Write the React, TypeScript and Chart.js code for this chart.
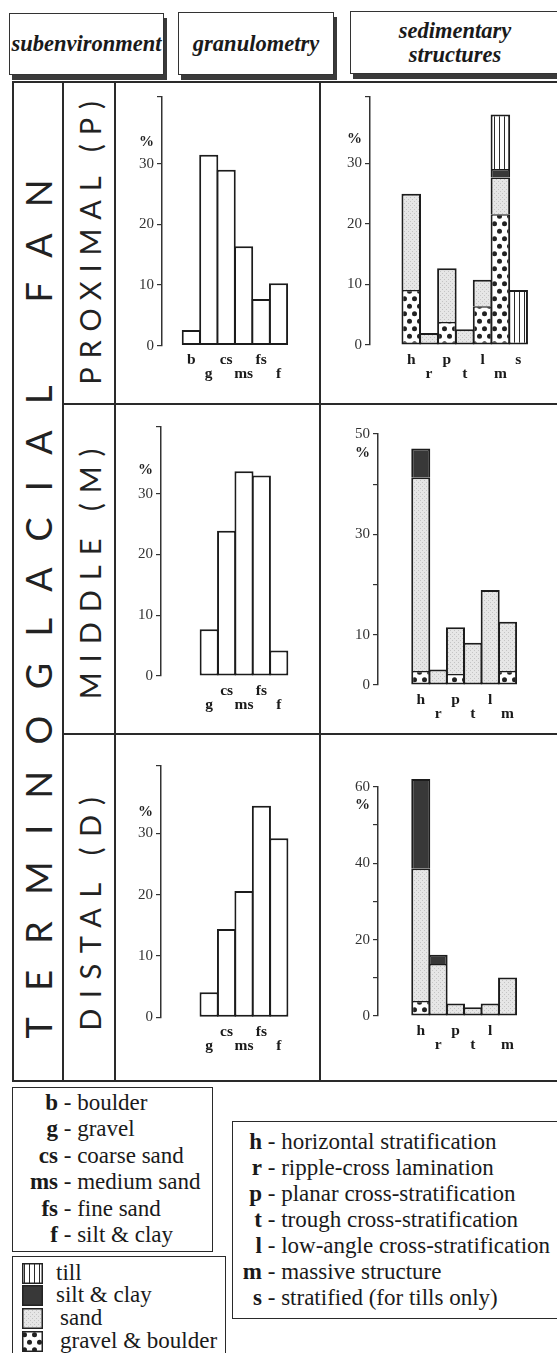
import React, { useEffect, useRef } from 'react';
import { Chart, registerables } from 'chart.js';
Chart.register(...registerables);

const SERIF = '"Liberation Serif", "Times New Roman", serif';
const SANS = 'Lato, "Open Sans", sans-serif';

// ---------------- data ----------------
const granCategories = ['b', 'g', 'cs', 'ms', 'fs', 'f'];
const granLabelsProximal = ['b', 'g', 'cs', 'ms', 'fs', 'f'];
const granLabelsOther = ['', 'g', 'cs', 'ms', 'fs', 'f'];
const granProximal = [2.6, 31.5, 29.0, 16.4, 7.7, 10.3];
const granMiddle = [null, 7.7, 23.9, 33.7, 33.0, 4.2];
const granDistal = [null, 4.1, 14.4, 20.6, 34.5, 29.2];
const granTickValues = [0, 10, 20, 30, 41];
const granTickLabels = ['0', '10', '20', '30', ''];

const sedCategoriesProximal = ['h', 'r', 'p', 't', 'l', 'm', 's'];
const sedCategories = ['h', 'r', 'p', 't', 'l', 'm'];

const proxGravel = [9.1, null, 3.8, null, 6.4, 21.6, null];
const proxSand = [15.9, 2.0, 8.9, 2.6, 4.4, 6.1, null];
const proxSilt = [null, null, null, null, null, 1.4, null];
const proxTill = [null, null, null, null, null, 9.0, 9.1];

const midGravel = [2.8, null, 2.2, null, null, 2.8];
const midSand = [38.5, 3.1, 9.3, 8.4, 18.9, 9.8];
const midSilt = [5.8, null, null, null, null, null];

const distGravel = [3.9, null, null, null, null, null];
const distSand = [34.6, 13.6, 3.3, 2.3, 3.3, 10.1];
const distSilt = [23.5, 2.4, null, null, null, null];

const sedProxTickValues = [0, 10, 20, 30, 41];
const sedProxTickLabels = ['0', '10', '20', '30', ''];
const sedMidTickValues = [0, 10, 20, 30, 40, 50];
const sedMidTickLabels = ['0', '10', '', '30', '', '50'];
const sedDistTickValues = [0, 10, 20, 30, 40, 50, 60];
const sedDistTickLabels = ['0', '', '20', '', '40', '', '60'];

const granLegendNames = ['boulder', 'gravel', 'coarse sand', 'medium sand', 'fine sand', 'silt & clay'];
const sedLegendNames = [
  'horizontal stratification',
  'ripple-cross lamination',
  'planar cross-stratification',
  'trough cross-stratification',
  'low-angle cross-stratification',
  'massive structure',
  'stratified (for tills only)',
];
const fillLegendKeys = ['till', 'silt', 'sand', 'gravel'];
const fillLegendNames = ['till', 'silt & clay', 'sand', 'gravel & boulder'];

// ---------------- fills ----------------
const fillCache: Record<string, any> = {};
function makePattern(w: number, h: number, draw: (c: CanvasRenderingContext2D) => void) {
  const cv = document.createElement('canvas');
  cv.width = w;
  cv.height = h;
  const c = cv.getContext('2d')!;
  draw(c);
  return c.createPattern(cv, 'repeat')!;
}
function getFills() {
  if (fillCache.white) return fillCache;
  fillCache.white = '#ffffff';
  fillCache.silt = '#383838';
  fillCache.sand = makePattern(4, 4, (c) => {
    c.fillStyle = '#e6e6e6';
    c.fillRect(0, 0, 4, 4);
    c.fillStyle = '#c4c4c4';
    c.fillRect(0, 0, 1, 1);
    c.fillRect(2, 2, 1, 1);
  });
  fillCache.till = makePattern(5, 4, (c) => {
    c.fillStyle = '#ffffff';
    c.fillRect(0, 0, 5, 4);
    c.fillStyle = '#2a2a2a';
    c.fillRect(2, 0, 1, 4);
  });
  fillCache.gravel = makePattern(10, 15, (c) => {
    c.fillStyle = '#ffffff';
    c.fillRect(0, 0, 10, 15);
    c.fillStyle = '#222222';
    c.beginPath();
    c.arc(2.5, 3.75, 2.5, 0, Math.PI * 2);
    c.fill();
    c.beginPath();
    c.arc(7.5, 11.25, 2.5, 0, Math.PI * 2);
    c.fill();
  });
  return fillCache;
}

// ---------------- panel specs (layout) ----------------
type Series = { data: (number | null)[]; fill: string };
type Spec = {
  id: string;
  canvas: { left: number; top: number; width: number; height: number };
  plot: { left: number; top: number; right: number; bottom: number };
  firstBar: number;
  pitch: number;
  yMax: number;
  yTicks: number[];
  yTickLabels: string[];
  xLabels: string[];
  series: Series[];
  stacked: boolean;
  pct: number;
};

const granX = { left: 117, width: 202 };
const sedX = { left: 322, width: 235 };

const panels: Spec[] = [
  {
    id: 'gp',
    canvas: { ...granX, top: 85, height: 318 },
    plot: { left: 162, top: 96, right: 312, bottom: 345.7 },
    firstBar: 171.7, pitch: 20.93, yMax: 41,
    yTicks: granTickValues, yTickLabels: granTickLabels,
    xLabels: granLabelsProximal,
    series: [{ data: granProximal, fill: 'white' }],
    stacked: false, pct: 33.5,
  },
  {
    id: 'gm',
    canvas: { ...granX, top: 406, height: 327 },
    plot: { left: 161, top: 427, right: 312, bottom: 676 },
    firstBar: 172.4, pitch: 20.88, yMax: 41,
    yTicks: granTickValues, yTickLabels: granTickLabels,
    xLabels: granLabelsOther,
    series: [{ data: granMiddle, fill: 'white' }],
    stacked: false, pct: 33.9,
  },
  {
    id: 'gd',
    canvas: { ...granX, top: 736, height: 344 },
    plot: { left: 161, top: 766, right: 312, bottom: 1017.3 },
    firstBar: 172.2, pitch: 20.93, yMax: 41,
    yTicks: granTickValues, yTickLabels: granTickLabels,
    xLabels: granLabelsOther,
    series: [{ data: granDistal, fill: 'white' }],
    stacked: false, pct: 33.5,
  },
  {
    id: 'sp',
    canvas: { ...sedX, top: 85, height: 318 },
    plot: { left: 370, top: 95, right: 550, bottom: 345 },
    firstBar: 392.7, pitch: 20.8, yMax: 41,
    yTicks: sedProxTickValues, yTickLabels: sedProxTickLabels,
    xLabels: sedCategoriesProximal,
    series: [
      { data: proxGravel, fill: 'gravel' },
      { data: proxSand, fill: 'sand' },
      { data: proxSilt, fill: 'silt' },
      { data: proxTill, fill: 'till' },
    ],
    stacked: true, pct: 34.1,
  },
  {
    id: 'sm',
    canvas: { ...sedX, top: 406, height: 327 },
    plot: { left: 378, top: 434, right: 550, bottom: 685 },
    firstBar: 401.7, pitch: 20.83, yMax: 50,
    yTicks: sedMidTickValues, yTickLabels: sedMidTickLabels,
    xLabels: sedCategories,
    series: [
      { data: midGravel, fill: 'gravel' },
      { data: midSand, fill: 'sand' },
      { data: midSilt, fill: 'silt' },
    ],
    stacked: true, pct: 46.2,
  },
  {
    id: 'sd',
    canvas: { ...sedX, top: 736, height: 344 },
    plot: { left: 378, top: 786.7, right: 550, bottom: 1016 },
    firstBar: 401.7, pitch: 20.83, yMax: 60,
    yTicks: sedDistTickValues, yTickLabels: sedDistTickLabels,
    xLabels: sedCategories,
    series: [
      { data: distGravel, fill: 'gravel' },
      { data: distSand, fill: 'sand' },
      { data: distSilt, fill: 'silt' },
    ],
    stacked: true, pct: 55.2,
  },
];

function buildChart(canvas: HTMLCanvasElement, spec: Spec) {
  const fills = getFills();
  const cr = spec.canvas;
  const plot = spec.plot;
  const xMin = -0.5 - (spec.firstBar - plot.left) / spec.pitch;
  const xMax = xMin + (plot.right - plot.left) / spec.pitch;
  const barPct = (spec.pitch + 2) / spec.pitch;
  const present = (si: number, i: number) => spec.series[si].data[i] != null;
  const tickLen = 5;
  const tickPad = 3;

  const datasets = spec.series.map((s, si) => ({
    label: s.fill,
    data: s.data
      .map((v, i) => (v == null ? null : { x: i, y: v }))
      .filter((p) => p !== null),
    backgroundColor: fills[s.fill],
    borderColor: '#1c1c1c',
    borderSkipped: false,
    barPercentage: barPct,
    categoryPercentage: 1,
    clip: false as any,
    borderWidth: (ctx: any) => {
      const raw = ctx.raw;
      if (!raw || typeof raw.x !== 'number') return 2;
      const i = raw.x;
      let below = false;
      let above = false;
      for (let k = 0; k < si; k++) if (present(k, i)) below = true;
      for (let k = si + 1; k < spec.series.length; k++) if (present(k, i)) above = true;
      return { top: above ? 1.5 : 2, bottom: below ? 0 : 2, left: 2, right: 2 };
    },
  }));

  const pctPlugin = {
    id: 'pct' + spec.id,
    afterDraw(chart: any) {
      const y = chart.scales.y;
      const ctx = chart.ctx;
      ctx.save();
      ctx.font = `bold 15px ${SERIF}`;
      ctx.fillStyle = '#222';
      ctx.textAlign = 'right';
      ctx.textBaseline = 'middle';
      ctx.fillText('%', y.right - tickLen - tickPad, y.getPixelForValue(spec.pct));
      ctx.restore();
    },
  };

  return new Chart(canvas, {
    type: 'bar',
    data: { datasets: datasets as any },
    options: {
      responsive: false,
      animation: false,
      events: [],
      layout: {
        padding: { left: 0, top: plot.top - cr.top, right: cr.left + cr.width - plot.right, bottom: 0 },
      },
      plugins: { legend: { display: false }, tooltip: { enabled: false } },
      scales: {
        x: {
          type: 'linear',
          min: xMin,
          max: xMax,
          stacked: spec.stacked,
          grid: { display: false, drawTicks: false },
          border: { display: false },
          afterBuildTicks: (sc: any) => {
            sc.ticks = spec.xLabels.map((_, i) => ({ value: i }));
          },
          afterFit: (sc: any) => {
            sc.height = cr.top + cr.height - plot.bottom;
          },
          ticks: {
            autoSkip: false,
            maxRotation: 0,
            minRotation: 0,
            padding: 7.5,
            color: '#1a1a1a',
            font: { family: SERIF, size: 15.5, weight: 'bold', lineHeight: '14px' } as any,
            callback: (_v: any, index: number) => {
              const lab = spec.xLabels[index] ?? '';
              return index % 2 === 0 ? [lab, ''] : ['', lab];
            },
          },
        } as any,
        y: {
          type: 'linear',
          min: 0,
          max: spec.yMax,
          stacked: spec.stacked,
          afterBuildTicks: (sc: any) => {
            sc.ticks = spec.yTicks.map((v) => ({ value: v }));
          },
          afterFit: (sc: any) => {
            sc.width = plot.left - cr.left;
          },
          grid: { drawOnChartArea: false, drawTicks: true, tickLength: tickLen, color: '#333', lineWidth: 1.2 },
          border: { display: true, color: '#333', width: 1.5 },
          ticks: {
            padding: tickPad,
            color: '#333',
            font: { family: SERIF, size: 15 },
            callback: (_v: any, index: number) => spec.yTickLabels[index] ?? '',
          },
        } as any,
      },
    },
    plugins: [pctPlugin],
  });
}

function Panel({ spec }: { spec: Spec }) {
  const ref = useRef<HTMLCanvasElement>(null);
  useEffect(() => {
    const chart = buildChart(ref.current!, spec);
    return () => chart.destroy();
  }, [spec]);
  return (
    <canvas
      ref={ref}
      width={spec.canvas.width}
      height={spec.canvas.height}
      style={{ position: 'absolute', left: spec.canvas.left, top: spec.canvas.top, width: spec.canvas.width, height: spec.canvas.height }}
    />
  );
}

function Swatch({ fill, left, top }: { fill: string; left: number; top: number }) {
  const ref = useRef<HTMLCanvasElement>(null);
  useEffect(() => {
    const c = ref.current!.getContext('2d')!;
    const fills = getFills();
    c.clearRect(0, 0, 21, 21);
    c.fillStyle = fills[fill];
    c.fillRect(0, 0, 21, 21);
    c.strokeStyle = '#222';
    c.lineWidth = 1.5;
    c.strokeRect(0.75, 0.75, 19.5, 19.5);
  }, [fill]);
  return <canvas ref={ref} width={21} height={21} style={{ position: 'absolute', left, top, width: 21, height: 21 }} />;
}

const headerBox = (left: number, top: number, width: number, height: number): React.CSSProperties => ({
  position: 'absolute',
  left,
  top,
  width,
  height,
  boxSizing: 'border-box',
  border: '1.5px solid #333',
  background: '#fff',
  boxShadow: '3px 5px 0 #3a3a3a',
  display: 'flex',
  alignItems: 'center',
  justifyContent: 'center',
  textAlign: 'center',
  fontFamily: SERIF,
  fontStyle: 'italic',
  fontWeight: 'bold',
  fontSize: 22.5,
  lineHeight: '24px',
  color: '#1a1a1a',
  whiteSpace: 'nowrap',
});

const vLine = (x: number, top: number, height: number, w = 1.6): React.CSSProperties => ({
  position: 'absolute', left: x - w / 2, top, width: w, height, background: '#2a2a2a',
});
const hLine = (y: number, left: number, width: number, h = 2): React.CSSProperties => ({
  position: 'absolute', left, top: y - h / 2, width, height: h, background: '#2a2a2a',
});

const rotated = (cx: number, cy: number, size: number, spacing: number, extra: React.CSSProperties = {}): React.CSSProperties => ({
  position: 'absolute',
  left: cx,
  top: cy,
  transform: 'translate(-50%, -50%) rotate(-90deg)',
  fontFamily: SANS,
  fontSize: size,
  lineHeight: `${size}px`,
  letterSpacing: spacing,
  paddingLeft: spacing,
  whiteSpace: 'nowrap',
  color: '#222',
  ...extra,
});

export default function App() {
  const legendRow: React.CSSProperties = { position: 'absolute', height: 26, lineHeight: '26px', fontFamily: SERIF, fontSize: 23, whiteSpace: 'nowrap' };
  return (
    <div
      style={{
        position: 'absolute', left: 0, top: 0, width: 557, height: 1353, overflow: 'hidden',
        background: '#fff', color: '#1a1a1a', fontFamily: SERIF,
      }}
    >
      {/* header */}
      <div style={headerBox(9, 13, 155, 62)}>subenvironment</div>
      <div style={headerBox(178, 12, 156, 63)}>granulometry</div>
      <div style={headerBox(350, 11, 210, 63)}>
        <div>sedimentary<br />structures</div>
      </div>

      {/* table frame */}
      <div
        style={{
          position: 'absolute', left: 12, top: 81, width: 560, height: 1001, boxSizing: 'border-box',
          border: '2px solid #2a2a2a', borderTopWidth: 2.5,
        }}
      />
      <div style={vLine(63, 81, 1001)} />
      <div style={vLine(115, 81, 1001)} />
      <div style={vLine(320, 81, 1001)} />
      <div style={hLine(404, 63, 500)} />
      <div style={hLine(734, 63, 500)} />

      {/* left labels */}
      <div style={rotated(38, 609, 36, 26.4, { wordSpacing: 22 })}>TERMINOGLACIAL FAN</div>
      <div style={rotated(89, 243, 29, 8.9)}>PROXIMAL (P)</div>
      <div style={rotated(89, 574, 29, 10)}>MIDDLE (M)</div>
      <div style={rotated(89, 914, 29, 10.5)}>DISTAL (D)</div>

      {panels.map((p) => (
        <Panel key={p.id} spec={p} />
      ))}

      {/* legend 1: granulometry codes */}
      <div style={{ position: 'absolute', left: 12, top: 1087, width: 201, height: 165, boxSizing: 'border-box', border: '1.5px solid #2a2a2a' }} />
      {granCategories.map((code, k) => (
        <div key={code} style={{ ...legendRow, left: 12, top: 1103 + k * 26.4 - 13 }}>
          <span style={{ display: 'inline-block', width: 46, textAlign: 'right', fontWeight: 'bold' }}>{code}</span>
          {' - ' + granLegendNames[k]}
        </div>
      ))}

      {/* legend 2: fills */}
      <div style={{ position: 'absolute', left: 12, top: 1256, width: 214, height: 110, boxSizing: 'border-box', border: '1.5px solid #2a2a2a' }} />
      {fillLegendKeys.map((key, k) => (
        <React.Fragment key={key}>
          <Swatch fill={key} left={22} top={[1263, 1285, 1308, 1331][k]} />
          <div style={{ ...legendRow, left: [56, 56, 60, 60][k], top: [1273, 1295, 1318, 1341][k] - 13 }}>
            {fillLegendNames[k]}
          </div>
        </React.Fragment>
      ))}

      {/* legend 3: sedimentary structure codes */}
      <div style={{ position: 'absolute', left: 232, top: 1121, width: 340, height: 198, boxSizing: 'border-box', border: '1.5px solid #2a2a2a' }} />
      {sedCategoriesProximal.map((code, k) => (
        <div key={code} style={{ ...legendRow, left: 232, top: 1142 + k * 26 - 13 }}>
          <span style={{ display: 'inline-block', width: 30, textAlign: 'right', fontWeight: 'bold' }}>{code}</span>
          {' - ' + sedLegendNames[k]}
        </div>
      ))}
    </div>
  );
}
